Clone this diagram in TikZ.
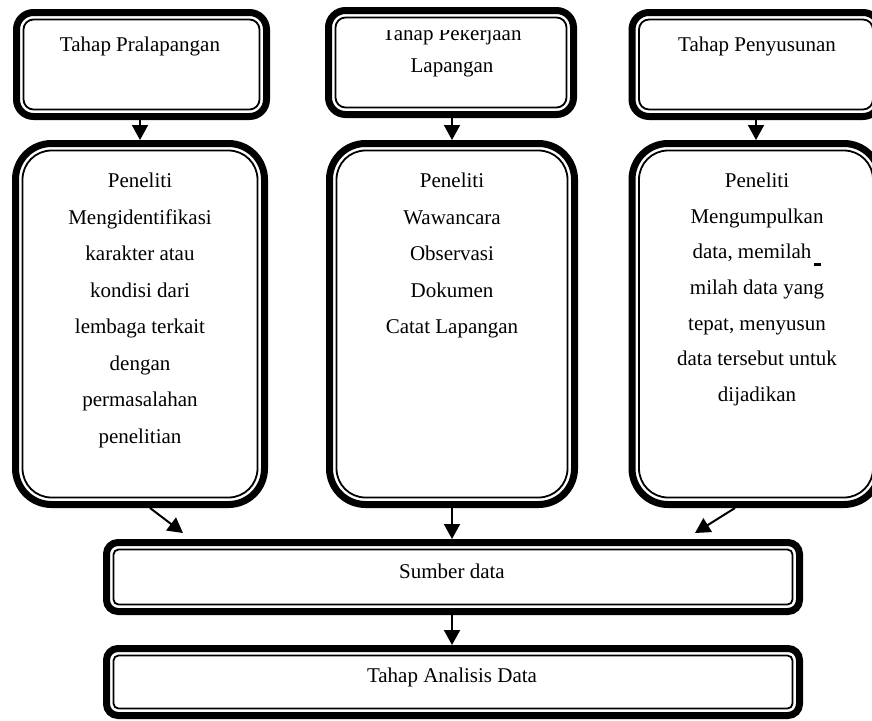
\documentclass[tikz,border=0pt]{standalone}
\usepackage{fontspec}
\setmainfont{Liberation Serif}
\usetikzlibrary{arrows.meta}
\begin{document}
\begin{tikzpicture}
  [x=1pt, y=-1pt, font=\fontsize{21}{36.5}\selectfont]
  \tikzstyle{box} = [draw=black, line width=7pt, inner sep=0pt];
  \tikzstyle{stage_box} = [box, rounded corners=17pt, minimum height=104pt];
  \tikzstyle{tall_box}  = [box, rounded corners=36pt, minimum height=361pt];
  \tikzstyle{wide_box}  = [box, rounded corners=11.5pt, minimum width=693pt];
  \tikzstyle{inner_line} = [draw=black, line width=1.8pt];
  \tikzstyle{flow} = [line width=2pt, -{Triangle[length=15pt, width=16pt]}];
  \tikzstyle{label_text} = [inner sep=0pt, anchor=base];
  \tikzstyle{list_text} = [inner sep=0pt, anchor=north, align=center];

  \useasboundingbox (0, 0) rectangle (872, 720);

  % top row
  \node[stage_box, minimum width=250pt] (pra_top)   at (141.5, 64.5) {};
  \node[stage_box, minimum width=245pt] (kerja_top) at (451, 62.5) {};
  \node[stage_box, minimum width=248pt] (susun_top) at (756, 64.5) {};

  % middle row
  \node[tall_box, minimum width=249pt] (pra_mid)   at (140, 324) {};
  \node[tall_box, minimum width=245pt] (kerja_mid) at (452, 324) {};
  \node[tall_box, minimum width=248pt] (susun_mid) at (756, 324) {};

  % bottom row
  \node[wide_box, minimum height=69pt] (sumber)   at (453, 577) {};
  \node[wide_box, minimum height=67pt] (analisis) at (453, 682) {};

  % thin inner frame
  \foreach \n/\r in {pra_top/10, kerja_top/10, susun_top/10,
                     pra_mid/29, kerja_mid/29, susun_mid/29,
                     sumber/5, analisis/5}
    \draw[inner_line, rounded corners=\r pt]
      ([shift={(10.5pt, 10.5pt)}]\n.south west) rectangle
      ([shift={(-10.5pt, -10.5pt)}]\n.north east);

  \node[label_text] (pra_txt)   at (140, 51) {Tahap Pralapangan};
  \node[label_text] (susun_txt) at (757, 51) {Tahap Penyusunan};
  \begin{scope}
    \clip (335, 30) rectangle (570, 105);
    \node[label_text] (kerja_txt) at (452, 40) {Tahap Pekerjaan};
  \end{scope}
  \node[label_text] (kerja_txt2) at (452, 72) {Lapangan};

  \node[list_text] (pra_list) at (140, 173)
    {Peneliti\\Mengidentifikasi\\karakter atau\\kondisi dari\\lembaga terkait\\dengan\\permasalahan\\penelitian};
  \node[list_text] (kerja_list) at (452, 173)
    {Peneliti\\Wawancara\\Observasi\\Dokumen\\Catat Lapangan};
  \node[list_text, font=\fontsize{21}{35.6}\selectfont] (susun_list) at (757, 173)
    {Peneliti\\Mengumpulkan\\data, memilah\hspace{3pt}\rule[-7pt]{7pt}{2.5pt}\\milah data yang\\tepat, menyusun\\data tersebut untuk\\dijadikan};

  \node[label_text] (sumber_txt)   at (452, 578) {Sumber data};
  \node[label_text] (analisis_txt) at (452, 682) {Tahap Analisis Data};

  \draw[flow] (pra_top.south -| pra_mid.north) -- (pra_mid.north);
  \draw[flow] (kerja_top.south -| kerja_mid.north) -- (kerja_mid.north);
  \draw[flow] (susun_top.south -| susun_mid.north) -- (susun_mid.north);

  \draw[flow] ([xshift=10pt]pra_mid.south) -- ([xshift=80pt, yshift=6pt]sumber.north west);
  \draw[flow] (kerja_mid.south) -- (kerja_mid.south |- sumber.north);
  \draw[flow] ([xshift=-21pt]susun_mid.south) -- ([xshift=-108pt, yshift=6pt]sumber.north east);
  \draw[flow] (sumber.south -| kerja_mid.south) -- (kerja_mid.south |- analisis.north);

\end{tikzpicture}
\end{document}
